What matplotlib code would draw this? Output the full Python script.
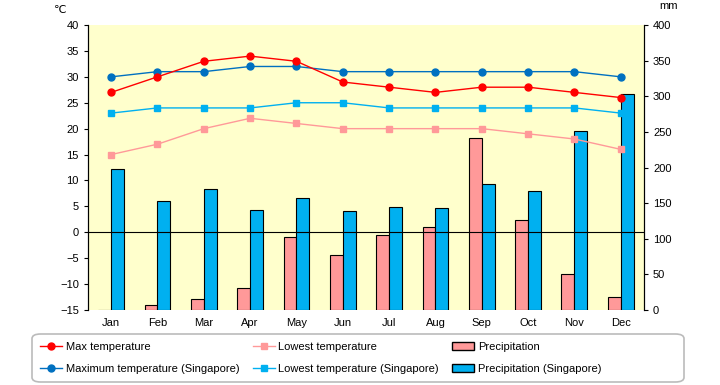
import numpy as np
import matplotlib.pyplot as plt
from matplotlib.patches import Patch, FancyBboxPatch
from matplotlib.lines import Line2D

plt.rcParams['font.family'] = ['Liberation Sans', 'DejaVu Sans']

months = ['Jan', 'Feb', 'Mar', 'Apr', 'May', 'Jun', 'Jul', 'Aug', 'Sep', 'Oct', 'Nov', 'Dec']
maxTemp = [27, 30, 33, 34, 33, 29, 28, 27, 28, 28, 27, 26]
lowTemp = [15, 17, 20, 22, 21, 20, 20, 20, 20, 19, 18, 16]
precip = [0, 7, 15, 31, 103, 77, 105, 117, 242, 126, 51, 18]
sgMaxTemp = [30, 31, 31, 32, 32, 31, 31, 31, 31, 31, 31, 30]
sgLowTemp = [23, 24, 24, 24, 25, 25, 24, 24, 24, 24, 24, 23]
sgPrecip = [198, 153, 170, 140, 157, 139, 144, 143, 177, 167, 251, 303]

red = '#FF0000'
pink = '#FF9999'
darkBlue = '#0070C0'
lightBlue = '#00B0F0'

fig = plt.figure(figsize=(7.2, 3.85), dpi=100)
ax = fig.add_axes([0.1222, 0.1948, 0.7722, 0.7402])
ax2 = ax.twinx()

x = np.arange(len(months))
w = 0.28

# bars on the precipitation axis, drawn below the lines
ax2.bar(x - w / 2, precip, w, color=pink, edgecolor='black', linewidth=0.8)
ax2.bar(x + w / 2, sgPrecip, w, color=lightBlue, edgecolor='black', linewidth=0.8)
ax2.set_ylim(0, 400)
ax2.set_yticks(range(0, 401, 50))

ax.set_zorder(ax2.get_zorder() + 1)
ax.patch.set_visible(False)
ax2.patch.set_visible(True)
ax2.patch.set_facecolor('#FFFFCC')

ax.axhline(0, color='black', linewidth=0.8)
ax.plot(x, lowTemp, color=pink, marker='s', markersize=5, linewidth=1)
ax.plot(x, sgLowTemp, color=lightBlue, marker='s', markersize=5, linewidth=1)
ax.plot(x, sgMaxTemp, color=darkBlue, marker='o', markersize=5, linewidth=1)
ax.plot(x, maxTemp, color=red, marker='o', markersize=5, linewidth=1)

ax.set_ylim(-15, 40)
ax.set_yticks(range(-15, 41, 5))
ax.set_xlim(-0.5, 11.5)
ax.set_xticks(x)
ax.set_xticklabels(months)

for a in (ax, ax2):
    a.spines['top'].set_visible(False)
    a.spines['bottom'].set_visible(False)
    a.tick_params(labelsize=8, length=3, width=0.8)
ax.tick_params(axis='x', length=0, pad=6)
ax2.tick_params(axis='x', length=0)

fig.text(0.083, 0.975, '℃', fontsize=8, ha='center', va='center',
         family=['DejaVu Sans'])
fig.text(0.928, 0.985, 'mm', fontsize=8, ha='center', va='center')

# legend frame drawn by hand so it can be wider than the entries
frame = FancyBboxPatch((32 / 720, 3 / 385), 652 / 720, 48 / 385,
                       boxstyle='round,pad=0,rounding_size=0.012',
                       transform=fig.transFigure, facecolor='white',
                       edgecolor='#BBBBBB', linewidth=1.2)
fig.patches.append(frame)

handles = [
    Line2D([], [], color=red, marker='o', markersize=5, linewidth=1, label='Max temperature'),
    Line2D([], [], color=darkBlue, marker='o', markersize=5, linewidth=1, label='Maximum temperature (Singapore)'),
    Line2D([], [], color=pink, marker='s', markersize=5, linewidth=1, label='Lowest temperature'),
    Line2D([], [], color=lightBlue, marker='s', markersize=5, linewidth=1, label='Lowest temperature (Singapore)'),
    Patch(facecolor=pink, edgecolor='black', label='Precipitation'),
    Patch(facecolor=lightBlue, edgecolor='black', label='Precipitation (Singapore)'),
]
leg = fig.legend(handles=handles, ncol=3, loc='center left', bbox_to_anchor=(0.045, 0.07),
                 fontsize=8, frameon=False, handlelength=2.0,
                 handletextpad=0.3, columnspacing=1.2, borderpad=0.2, labelspacing=1.05)

plt.savefig('out.png', dpi=100)
